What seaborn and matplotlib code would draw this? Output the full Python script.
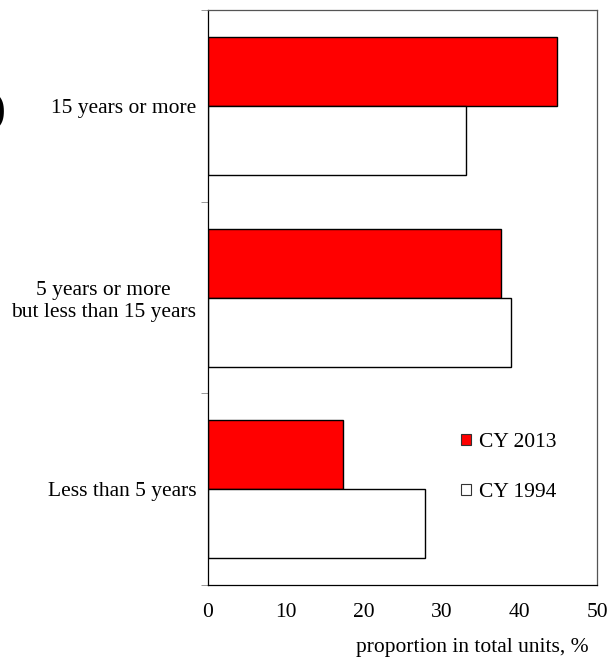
import pandas as pd
import numpy as np
import matplotlib
matplotlib.use("Agg")
import matplotlib.pyplot as plt
import seaborn as sns

categories = ["15 years or more", "5 years or more\nbut less than 15 years", "Less than 5 years"]
series_names = ["CY 2013", "CY 1994"]
values_2013 = [44.9, 37.7, 17.4]
values_1994 = [33.1, 39.0, 27.9]
x_ticks = [0, 10, 20, 30, 40, 50]

df = pd.DataFrame({
    "category": categories * 2,
    "year": [series_names[0]] * 3 + [series_names[1]] * 3,
    "value": values_2013 + values_1994,
})

sns.set_style("white")
plt.rcParams['font.family'] = ['Liberation Serif', 'DejaVu Serif']
plt.rcParams['text.color'] = 'black'
plt.rcParams['xtick.labelcolor'] = 'black'
plt.rcParams['ytick.labelcolor'] = 'black'
plt.rcParams['axes.labelcolor'] = 'black'
fs = 15.5

fig = plt.figure(figsize=(6.07, 6.62), dpi=100)
ax = fig.add_axes([208 / 607, 1 - 585 / 662, 389 / 607, 575 / 662])

sns.barplot(data=df, x="value", y="category", hue="year", order=categories,
            hue_order=series_names, palette={"CY 2013": "#ff0000", "CY 1994": "white"},
            saturation=1, edgecolor="black", linewidth=1.0, width=0.72, orient="h", ax=ax,
            errorbar=None)

ax.set_xlim(0, 50)
ax.set_ylim(2.5, -0.5)
ax.set_xticks(x_ticks)
ax.set_xticklabels([str(t) for t in x_ticks], fontsize=fs)
ax.tick_params(axis="x", direction="in", length=5, color="#888888", pad=13)

ax.set_yticks(range(len(categories)))
ax.set_yticklabels(categories, fontsize=fs, multialignment="center")
ax.tick_params(axis="y", which="major", length=0, pad=8.5)
ax.set_yticks([-0.5, 0.5, 1.5, 2.5], minor=True)
ax.tick_params(axis="y", which="minor", direction="out", length=5, color="#888888", left=True)

ax.set_ylabel("")
ax.set_xlabel("proportion in total units, %", fontsize=fs)
ax.xaxis.set_label_coords((472 - 208) / 389, -(638 - 585) / 575)

for side in ["left", "right", "top", "bottom"]:
    ax.spines[side].set_visible(True)
    ax.spines[side].set_color("black")
    ax.spines[side].set_linewidth(0.9)
ax.spines["right"].set_color("#555555")
ax.spines["top"].set_color("#555555")

leg = ax.legend(loc="upper left", bbox_to_anchor=((461 - 208) / 389, (585 - 433) / 575),
                frameon=False, fontsize=fs, handlelength=0.45, handleheight=0.45,
                handletextpad=0.4, labelspacing=1.45, borderpad=0, borderaxespad=0)
for h in leg.legend_handles:
    h.set_linewidth(0.8)
    h.set_edgecolor("#333333")

# cut-off panel label at the left edge
fig.text(5 / 607, 1 - 112 / 662, ")", fontsize=32, ha="right", va="center")

fig.savefig("out.png", dpi=100)
